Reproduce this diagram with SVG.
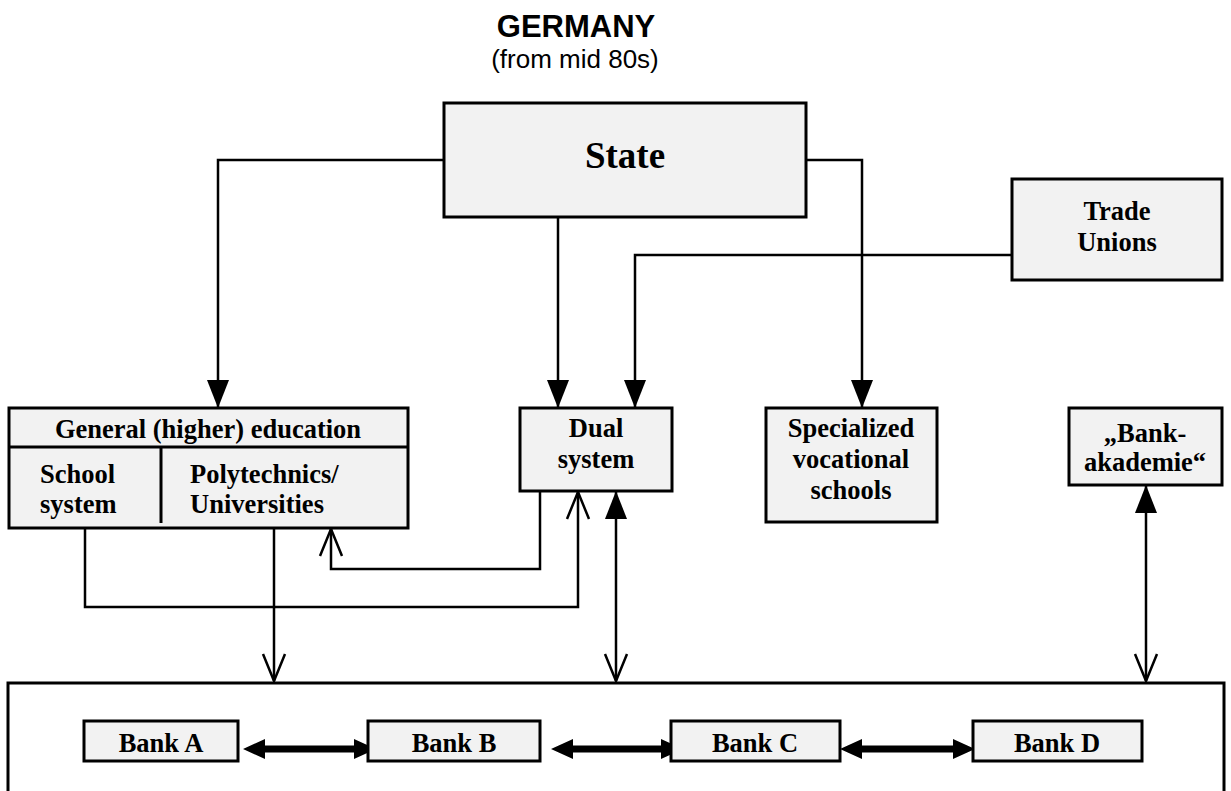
<svg xmlns="http://www.w3.org/2000/svg" width="1231" height="791" viewBox="0 0 1231 791">
<style>
.box{fill:#f2f2f2;stroke:#000;stroke-width:3}
.t{font-family:"Liberation Serif","Times New Roman",serif;font-weight:bold;font-size:26.5px;fill:#000}
.c{text-anchor:middle}
.big{font-size:37px}
.ln{fill:none;stroke:#000;stroke-width:2.5}
</style>
<defs>
<marker id="af" markerUnits="userSpaceOnUse" markerWidth="28" markerHeight="22" refX="27" refY="11" orient="auto-start-reverse" viewBox="0 0 28 22">
<path d="M0,0 L28,11 L0,22 Z" fill="#000"/>
</marker>
<marker id="ao" markerUnits="userSpaceOnUse" markerWidth="30" markerHeight="26" refX="28" refY="13" orient="auto-start-reverse" viewBox="0 0 30 26">
<path d="M1,2 L28,13 L1,24" fill="none" stroke="#000" stroke-width="2.5"/>
</marker>
</defs>
<rect width="1231" height="791" fill="#fff"/>
<g id="title">
<text x="576" y="37" text-anchor="middle" font-family="'Liberation Sans',Arial,sans-serif" font-weight="bold" font-size="31">GERMANY</text>
<text x="575" y="68" text-anchor="middle" font-family="'Liberation Sans',Arial,sans-serif" font-size="26">(from mid 80s)</text>
</g>
<g id="connectors">
<path class="ln" d="M444,160 H218 V407" marker-end="url(#af)"/>
<path class="ln" d="M558,217 V407" marker-end="url(#af)"/>
<path class="ln" d="M1012,255 H635 V407" marker-end="url(#af)"/>
<path class="ln" d="M806,160 H862 V407" marker-end="url(#af)"/>
<path class="ln" d="M85,528 V607 H578 V492" marker-end="url(#ao)"/>
<path class="ln" d="M540,491 V569 H331 V529" marker-end="url(#ao)"/>
<path class="ln" d="M274,528 V681" marker-end="url(#ao)"/>
<path class="ln" d="M616,492 V681" marker-start="url(#af)" marker-end="url(#ao)"/>
<path class="ln" d="M1146,486 V681" marker-start="url(#af)" marker-end="url(#ao)"/>
<polygon points="243,749 265,739 265,745.5 354,745.5 354,739 376,749 354,759 354,752.5 265,752.5 265,759" fill="#000"/>
<polygon points="551,749 573,739 573,745.5 661,745.5 661,739 683,749 661,759 661,752.5 573,752.5 573,759" fill="#000"/>
<polygon points="840,749 862,739 862,745.5 953,745.5 953,739 975,749 953,759 953,752.5 862,752.5 862,759" fill="#000"/>
</g>
<g id="state">
<rect class="box" x="444" y="103" width="362" height="114"/>
<text class="t c big" x="625" y="168">State</text>
</g>
<g id="trade-unions">
<rect class="box" x="1012" y="179" width="210" height="101"/>
<text class="t c" x="1117" y="220">Trade</text>
<text class="t c" x="1117" y="251">Unions</text>
</g>
<g id="general-education">
<rect class="box" x="9" y="408" width="399" height="120"/>
<line x1="9" y1="447" x2="408" y2="447" stroke="#000" stroke-width="3"/>
<line x1="161" y1="447" x2="161" y2="523" stroke="#000" stroke-width="3"/>
<text class="t c" x="208" y="438">General (higher) education</text>
<text class="t" x="40" y="483">School</text>
<text class="t" x="40" y="513">system</text>
<text class="t" x="190" y="483">Polytechnics/</text>
<text class="t" x="190" y="513">Universities</text>
</g>
<g id="dual-system">
<rect class="box" x="520" y="408" width="152" height="83"/>
<text class="t c" x="596" y="437">Dual</text>
<text class="t c" x="596" y="468">system</text>
</g>
<g id="specialized">
<rect class="box" x="766" y="408" width="171" height="114"/>
<text class="t c" x="851" y="437">Specialized</text>
<text class="t c" x="851" y="468">vocational</text>
<text class="t c" x="851" y="499">schools</text>
</g>
<g id="bankakademie">
<rect class="box" x="1069" y="408" width="153" height="77"/>
<text class="t c" x="1145" y="442">„Bank-</text>
<text class="t c" x="1145" y="471">akademie“</text>
</g>
<g id="banks">
<rect x="8" y="683" width="1216" height="120" fill="none" stroke="#000" stroke-width="3"/>
</g>
<g id="bank-a">
<rect class="box" x="84" y="721" width="154" height="40"/>
<text class="t c" x="161" y="752">Bank A</text>
</g>
<g id="bank-b">
<rect class="box" x="368" y="721" width="172" height="40"/>
<text class="t c" x="454" y="752">Bank B</text>
</g>
<g id="bank-c">
<rect class="box" x="671" y="721" width="169" height="40"/>
<text class="t c" x="755" y="752">Bank C</text>
</g>
<g id="bank-d">
<rect class="box" x="973" y="721" width="169" height="40"/>
<text class="t c" x="1057" y="752">Bank D</text>
</g>
</svg>
